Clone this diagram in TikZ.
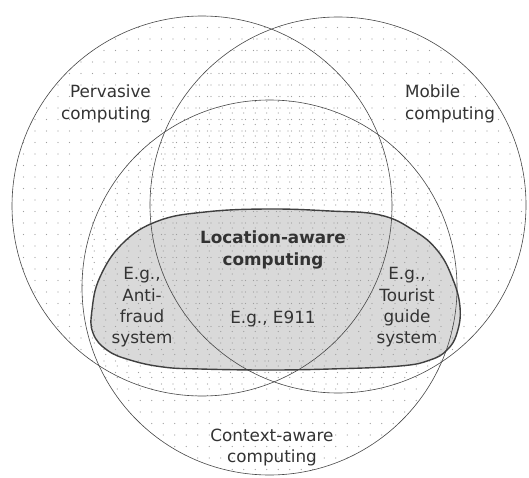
\documentclass[tikz,border=0pt]{standalone}
\usepackage{fontspec}
\setmainfont{DejaVu Sans}
\begin{document}
\begin{tikzpicture}[x=1pt,y=-1pt,
  ring/.style={draw=black!72, line width=0.6pt},
  blobfill/.style={fill=black!15},
  blobline/.style={draw=black!75, line width=1.4pt},
  dotc/.style={fill=black!38},
  lbl/.style={text=black!80, font=\fontsize{16.8}{21.3}\selectfont, inner sep=0pt},
  bold/.style={lbl, font=\fontsize{16.8}{21.3}\selectfont\bfseries}]
\useasboundingbox (0,0) rectangle (529,478);
\fill[white] (0,0) rectangle (529,478);
% location-aware blob fill
\def\blobpath{plot[smooth cycle, tension=0.7] coordinates {
 (267,209) (330,211) (380,215) (413,230) (437,250) (452,277) (460,307)
 (457,333) (447,350) (430,360) (400,366) (330,369) (267,370) (200,369)
 (163,367) (130,360) (107,350) (93,333) (92,310) (100,277) (123,243)
 (158,221) (205,212)}}
\fill[blobfill] \blobpath;
% dot patterns
\begin{scope}
  \clip (202,206) circle[radius=190];
  \foreach \i in {0,...,34} \foreach \j in {0,...,34}
    \fill[dotc] ({12+\i*11.5},{16+\j*11.5}) circle[radius=0.7];
\end{scope}
\begin{scope}
  \clip (338,205) circle[radius=188];
  \foreach \i in {0,...,34} \foreach \j in {0,...,34}
    \fill[dotc] ({150+3.5+\i*11.5},{16+\j*11.5}) circle[radius=0.7];
\end{scope}
\begin{scope}
  \clip (269.5,287.5) circle[radius=187.5];
  \foreach \i in {0,...,34} \foreach \j in {0,...,34}
    \fill[dotc] ({81+1.75+\i*11.5},{98+3.5+\j*11.5}) circle[radius=0.7];
\end{scope}
% circles
\draw[ring] (202,206) circle[radius=190];
\draw[ring] (338,205) circle[radius=188];
\draw[ring] (269.5,287.5) circle[radius=187.5];
% blob outline
\draw[blobline] \blobpath;
% labels
\node[lbl, align=right, anchor=east] (perv) at (151,104) {Pervasive\\computing};
\node[lbl, align=left, anchor=west] (mob) at (405,104) {Mobile\\computing};
\node[bold, align=center] (loc) at (273,250) {Location-aware\\computing};
\node[lbl, align=center] (anti) at (142,307.5) {E.g.,\\Anti-\\fraud\\system};
\node[lbl, align=center] (e911) at (273,319) {E.g., E911};
\node[lbl, align=center] (tour) at (407,307.5) {E.g.,\\Tourist\\guide\\system};
\node[lbl, align=center] (ctx) at (272,447.5) {Context-aware\\computing};
\end{tikzpicture}
\end{document}
